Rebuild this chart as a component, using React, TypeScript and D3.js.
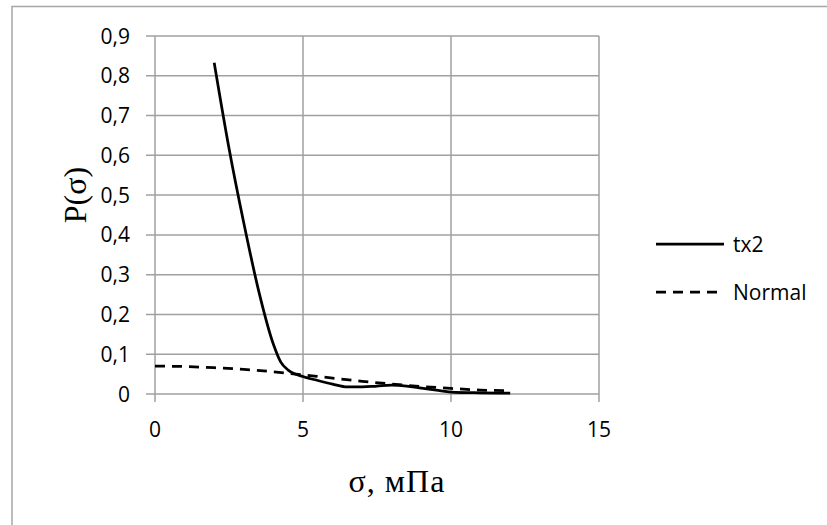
import React, { useEffect, useRef } from "react";
import * as d3 from "d3";

const txX = [2, 2.5, 3, 3.5, 4, 4.25, 4.5, 5, 5.5, 6, 6.5, 7, 7.5, 8, 8.5, 9, 9.5, 10, 11, 12];
const txY = [0.833, 0.618, 0.43, 0.26, 0.125, 0.08, 0.06, 0.044, 0.034, 0.025, 0.018, 0.018, 0.02, 0.022, 0.02, 0.015, 0.01, 0.005, 0.003, 0.002];
const normX = [0, 1, 2, 3, 4, 5, 6, 7, 8, 9, 10, 11, 12];
const normY = [0.07, 0.069, 0.066, 0.062, 0.056, 0.048, 0.04, 0.032, 0.025, 0.019, 0.014, 0.01, 0.008];
const xTicks = [0, 5, 10, 15];
const yTicks = [0, 0.1, 0.2, 0.3, 0.4, 0.5, 0.6, 0.7, 0.8, 0.9];
const seriesNames = ["tx2", "Normal"];

const W = 827;
const H = 525;

const App = () => {
  const ref = useRef<SVGSVGElement | null>(null);

  useEffect(() => {
    const svg = d3.select(ref.current);
    svg.selectAll("*").remove();

    const x = d3.scaleLinear().domain([0, 15]).range([155, 599]);
    const y = d3.scaleLinear().domain([0, 0.9]).range([394, 36]);
    const grid = "#a0a0a0";
    const font = "'Open Sans', sans-serif";

    // chart area border
    svg
      .append("rect")
      .attr("x", 12)
      .attr("y", 6.5)
      .attr("width", W)
      .attr("height", H)
      .attr("fill", "none")
      .attr("stroke", "#a6a6a6")
      .attr("stroke-width", 1.5);

    // horizontal gridlines + ticks
    svg
      .append("g")
      .selectAll("line")
      .data(yTicks)
      .enter()
      .append("line")
      .attr("x1", 146)
      .attr("x2", x(15))
      .attr("y1", (d) => y(d))
      .attr("y2", (d) => y(d))
      .attr("stroke", grid)
      .attr("stroke-width", 1.5);

    svg
      .append("g")
      .selectAll("line")
      .data(xTicks)
      .enter()
      .append("line")
      .attr("x1", (d) => x(d))
      .attr("x2", (d) => x(d))
      .attr("y1", y(0.9))
      .attr("y2", 402)
      .attr("stroke", grid)
      .attr("stroke-width", 1.5);

    svg
      .append("g")
      .selectAll("text")
      .data(yTicks)
      .enter()
      .append("text")
      .attr("x", 130)
      .attr("y", (d) => y(d) + 7.5)
      .attr("text-anchor", "end")
      .attr("font-family", font)
      .attr("font-size", 21)
      .attr("fill", "#000")
      .text((d) => d3.format(".1f")(d).replace(".", ",").replace(/^0,0$/, "0"));

    svg
      .append("g")
      .selectAll("text")
      .data(xTicks)
      .enter()
      .append("text")
      .attr("x", (d) => x(d))
      .attr("y", 437)
      .attr("text-anchor", "middle")
      .attr("font-family", font)
      .attr("font-size", 21)
      .attr("fill", "#000")
      .text((d) => String(d));

    const line = d3
      .line<[number, number]>()
      .x((d) => x(d[0]))
      .y((d) => y(d[1]))
      .curve(d3.curveMonotoneX);

    const tx: [number, number][] = txX.map((v, i) => [v, txY[i]]);
    const nm: [number, number][] = normX.map((v, i) => [v, normY[i]]);

    svg
      .append("path")
      .attr("d", line(nm))
      .attr("fill", "none")
      .attr("stroke", "#000")
      .attr("stroke-width", 2.75)
      .attr("stroke-dasharray", "10,7");

    svg
      .append("path")
      .attr("d", line(tx))
      .attr("fill", "none")
      .attr("stroke", "#000")
      .attr("stroke-width", 2.75);

    // legend
    const leg = svg
      .append("g")
      .selectAll("g")
      .data(seriesNames)
      .enter()
      .append("g")
      .attr("transform", (d, i) => `translate(656, ${244 + i * 48})`);

    leg
      .append("line")
      .attr("x1", 0)
      .attr("x2", 68)
      .attr("stroke", "#000")
      .attr("stroke-width", 2.75)
      .attr("stroke-dasharray", (d, i) => (i === 1 ? "10,7" : null));

    leg
      .append("text")
      .attr("x", 77)
      .attr("y", 7.5)
      .attr("font-family", font)
      .attr("font-size", 21)
      .attr("fill", "#000")
      .text((d) => d);

    // axis titles
    svg
      .append("text")
      .attr("transform", "translate(86, 195) rotate(-90)")
      .attr("text-anchor", "middle")
      .attr("font-family", "'Liberation Serif', serif")
      .attr("font-size", 32)
      .attr("fill", "#000")
      .text("P(σ)");

    svg
      .append("text")
      .attr("x", 397)
      .attr("y", 492)
      .attr("text-anchor", "middle")
      .attr("font-family", "'Liberation Serif', serif")
      .attr("font-size", 32)
      .attr("letter-spacing", 1)
      .attr("fill", "#000")
      .text("σ, мПа");
  }, []);

  return (
    <svg
      ref={ref}
      width={W}
      height={H}
      style={{ position: "absolute", left: 0, top: 0, background: "#fff" }}
    />
  );
};

export default App;
